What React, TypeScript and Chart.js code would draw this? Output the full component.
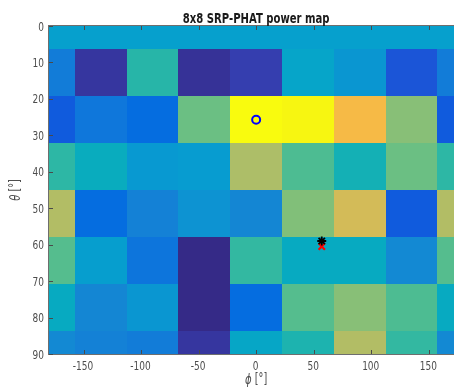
import React, { useEffect, useRef } from "react";
import { Chart, registerables } from "chart.js";
Chart.register(...registerables);

// phi centres (last column repeats the first, wrap-around)
const PHI = [-180, -135, -90, -45, 0, 45, 90, 135, 180];
// theta centres
const THETA = [0, 12.86, 25.71, 38.57, 51.43, 64.29, 77.14, 90];

// normalised SRP-PHAT power, one array per theta row
const ROW_T0 = [0.35, 0.35, 0.35, 0.35, 0.35, 0.35, 0.35, 0.35, 0.35];
const ROW_T13 = [0.22, 0.03, 0.48, 0.02, 0.05, 0.37, 0.31, 0.1, 0.22];
const ROW_T26 = [0.11, 0.2, 0.16, 0.58, 1.0, 0.99, 0.82, 0.62, 0.11];
const ROW_T39 = [0.49, 0.41, 0.32, 0.33, 0.68, 0.54, 0.44, 0.58, 0.49];
const ROW_T51 = [0.69, 0.16, 0.24, 0.3, 0.26, 0.61, 0.75, 0.11, 0.69];
const ROW_T64 = [0.55, 0.34, 0.19, 0.0, 0.5, 0.4, 0.4, 0.27, 0.55];
const ROW_T77 = [0.4, 0.26, 0.31, 0.0, 0.16, 0.55, 0.62, 0.54, 0.4];
const ROW_T90 = [0.27, 0.24, 0.22, 0.03, 0.38, 0.46, 0.69, 0.5, 0.27];
const POWER = [ROW_T0, ROW_T13, ROW_T26, ROW_T39, ROW_T51, ROW_T64, ROW_T77, ROW_T90];

const X_TICKS = [-150, -100, -50, 0, 50, 100, 150];
const Y_TICKS = [0, 10, 20, 30, 40, 50, 60, 70, 80, 90];

const EST_POINT = [{ x: 0, y: 25.7 }];
const STAR_POINT = [{ x: 57, y: 59 }];
const CROSS_POINT = [{ x: 57, y: 60.5 }];

const TITLE = "8x8 SRP-PHAT power map";
const X_LABEL = ["ϕ", " [°]"];
const Y_LABEL = ["θ", " [°]"];

const PARULA = [
  [0.2081, 0.1663, 0.5292], [0.2116, 0.1898, 0.5777], [0.2123, 0.2138, 0.627], [0.2081, 0.2386, 0.6771],
  [0.1959, 0.2645, 0.7279], [0.1707, 0.2919, 0.7792], [0.1253, 0.3242, 0.8303], [0.0591, 0.3598, 0.8683],
  [0.0117, 0.3875, 0.882], [0.006, 0.4086, 0.8828], [0.0165, 0.4266, 0.8786], [0.0329, 0.443, 0.872],
  [0.0498, 0.4586, 0.8641], [0.0629, 0.4737, 0.8554], [0.0723, 0.4887, 0.8467], [0.0779, 0.504, 0.8384],
  [0.0793, 0.52, 0.8312], [0.0749, 0.5375, 0.8263], [0.0641, 0.557, 0.824], [0.0488, 0.5772, 0.8228],
  [0.0343, 0.5966, 0.8199], [0.0265, 0.6137, 0.8135], [0.0239, 0.6287, 0.8038], [0.0231, 0.6418, 0.7913],
  [0.0228, 0.6535, 0.7768], [0.0267, 0.6642, 0.7607], [0.0384, 0.6743, 0.7436], [0.059, 0.6838, 0.7254],
  [0.0843, 0.6928, 0.7062], [0.1133, 0.7015, 0.6859], [0.1453, 0.7098, 0.6646], [0.1801, 0.7177, 0.6424],
  [0.2178, 0.725, 0.6193], [0.2586, 0.7317, 0.5954], [0.3022, 0.7376, 0.5712], [0.3482, 0.7424, 0.5473],
  [0.3953, 0.7459, 0.5244], [0.442, 0.7481, 0.5033], [0.4871, 0.7491, 0.484], [0.53, 0.7491, 0.4661],
  [0.5709, 0.7485, 0.4494], [0.6099, 0.7473, 0.4337], [0.6473, 0.7456, 0.4188], [0.6834, 0.7435, 0.4044],
  [0.7184, 0.7411, 0.3905], [0.7525, 0.7384, 0.3768], [0.7858, 0.7356, 0.3633], [0.8185, 0.7327, 0.3498],
  [0.8507, 0.7299, 0.336], [0.8824, 0.7274, 0.3217], [0.9139, 0.7258, 0.3063], [0.945, 0.7261, 0.2886],
  [0.9739, 0.7314, 0.2666], [0.9938, 0.7455, 0.2403], [0.999, 0.7653, 0.2164], [0.9955, 0.7861, 0.1967],
  [0.988, 0.8066, 0.1794], [0.9789, 0.8271, 0.1633], [0.9697, 0.8481, 0.1475], [0.9626, 0.8705, 0.1309],
  [0.9589, 0.8949, 0.1132], [0.9598, 0.9218, 0.0948], [0.9661, 0.9514, 0.0755], [0.9763, 0.9831, 0.0538],
];

function parula(v: number): string {
  const t = Math.max(0, Math.min(1, v)) * (PARULA.length - 1);
  const i = Math.floor(t);
  const j = Math.min(PARULA.length - 1, i + 1);
  const f = t - i;
  const c = PARULA[i].map((a, k) => Math.round(255 * (a + (PARULA[j][k] - a) * f)));
  return `rgb(${c[0]},${c[1]},${c[2]})`;
}

const FONT = "'DejaVu Sans Condensed', 'DejaVu Sans', sans-serif";
const SQUISH = 0.8;

// draw text horizontally compressed; align: "left" | "center" | "right"
function squishText(ctx: any, parts: { t: string; font: string; dy?: number }[], x: number, y: number, align: string) {
  let total = 0;
  const widths = parts.map((p) => {
    ctx.font = p.font;
    const w = ctx.measureText(p.t).width;
    total += w;
    return w;
  });
  ctx.save();
  ctx.translate(x, y);
  ctx.scale(SQUISH, 1);
  let start = align === "center" ? -total / 2 : align === "right" ? -total : 0;
  ctx.textAlign = "left";
  ctx.textBaseline = "alphabetic";
  parts.forEach((p, i) => {
    ctx.font = p.font;
    ctx.fillText(p.t, start, p.dy || 0);
    start += widths[i];
  });
  ctx.restore();
}

const heatmapPlugin = {
  id: "heatmap",
  beforeDatasetsDraw(chart: any) {
    const { ctx, chartArea, scales } = chart;
    const xs = scales.x;
    const ys = scales.y;
    const dPhi = PHI[1] - PHI[0];
    const dTh = THETA[1] - THETA[0];
    ctx.save();
    ctx.beginPath();
    ctx.rect(chartArea.left, chartArea.top, chartArea.right - chartArea.left, chartArea.bottom - chartArea.top);
    ctx.clip();
    POWER.forEach((row, i) => {
      row.forEach((v, j) => {
        const x0 = Math.round(xs.getPixelForValue(PHI[j] - dPhi / 2));
        const x1 = Math.round(xs.getPixelForValue(PHI[j] + dPhi / 2));
        const y0 = Math.round(ys.getPixelForValue(THETA[i] - dTh / 2));
        const y1 = Math.round(ys.getPixelForValue(THETA[i] + dTh / 2));
        ctx.fillStyle = parula(v);
        ctx.fillRect(Math.min(x0, x1), Math.min(y0, y1), Math.abs(x1 - x0), Math.abs(y1 - y0));
      });
    });
    ctx.restore();
  },
  afterDraw(chart: any) {
    const { ctx, chartArea, scales } = chart;
    const { left, right, top, bottom } = chartArea;
    ctx.save();
    ctx.strokeStyle = "#6e6e6e";
    ctx.lineWidth = 1;
    ctx.strokeRect(left - 0.5, top - 0.5, right - left + 1, bottom - top + 1);
    const tl = 4;
    ctx.beginPath();
    X_TICKS.forEach((t) => {
      const px = Math.round(scales.x.getPixelForValue(t)) + 0.5;
      ctx.moveTo(px, bottom);
      ctx.lineTo(px, bottom - tl);
      ctx.moveTo(px, top);
      ctx.lineTo(px, top + tl);
    });
    Y_TICKS.forEach((t) => {
      const py = Math.round(scales.y.getPixelForValue(t)) + 0.5;
      ctx.moveTo(left, py);
      ctx.lineTo(left + tl, py);
      ctx.moveTo(right, py);
      ctx.lineTo(right - tl, py);
    });
    ctx.strokeStyle = "#4a4a4a";
    ctx.stroke();

    // tick labels
    ctx.fillStyle = "#4d4d4d";
    const tickFont = `12.5px ${FONT}`;
    X_TICKS.forEach((t) => {
      const px = scales.x.getPixelForValue(t);
      squishText(ctx, [{ t: String(t), font: tickFont }], px - 0.5, bottom + 16, "center");
    });
    Y_TICKS.forEach((t) => {
      const py = scales.y.getPixelForValue(t);
      squishText(ctx, [{ t: String(t), font: tickFont }], left - 5, py + 4.5, "right");
    });

    // title
    ctx.fillStyle = "#1a1a1a";
    squishText(ctx, [{ t: TITLE, font: `bold 14px ${FONT}` }], (left + right) / 2, 23, "center");

    // axis titles
    ctx.fillStyle = "#4d4d4d";
    squishText(
      ctx,
      [
        { t: X_LABEL[0], font: `italic 14px ${FONT}`, dy: 0 },
        { t: X_LABEL[1], font: `13.5px ${FONT}`, dy: -1 },
      ],
      (left + right) / 2,
      384,
      "center"
    );
    ctx.save();
    ctx.translate(20, (top + bottom) / 2);
    ctx.rotate(-Math.PI / 2);
    squishText(
      ctx,
      [
        { t: Y_LABEL[0], font: `italic 14px ${FONT}`, dy: 0 },
        { t: Y_LABEL[1], font: `13.5px ${FONT}`, dy: -1 },
      ],
      0,
      0,
      "center"
    );
    ctx.restore();
    ctx.restore();
  },
};

export default function App() {
  const ref = useRef<HTMLCanvasElement | null>(null);
  useEffect(() => {
    if (!ref.current) return;
    const chart = new Chart(ref.current, {
      type: "scatter",
      data: {
        datasets: [
          {
            data: STAR_POINT,
            pointStyle: "star",
            radius: 4.5,
            borderWidth: 1.8,
            borderColor: "#000000",
            backgroundColor: "#000000",
          },
          {
            data: CROSS_POINT,
            pointStyle: "crossRot",
            radius: 4.5,
            borderWidth: 2.2,
            borderColor: "#ff0000",
            backgroundColor: "#ff0000",
          },
          {
            data: EST_POINT,
            pointStyle: "circle",
            radius: 4,
            borderWidth: 2,
            borderColor: "#0000ff",
            backgroundColor: "rgba(0,0,0,0)",
          },
        ],
      },
      options: {
        responsive: false,
        animation: false,
        events: [],
        layout: { padding: { top: 26, right: 6, left: 0, bottom: 0 } },
        plugins: { legend: { display: false }, tooltip: { enabled: false }, title: { display: false } },
        scales: {
          x: {
            type: "linear",
            min: -180,
            max: 180,
            grid: { display: false, drawTicks: false },
            border: { display: false },
            afterBuildTicks: (s: any) => {
              s.ticks = X_TICKS.map((v) => ({ value: v }));
            },
            afterFit: (s: any) => {
              s.height = 34;
            },
            ticks: { display: false },
          },
          y: {
            type: "linear",
            min: 0,
            max: 90,
            reverse: true,
            grid: { display: false, drawTicks: false },
            border: { display: false },
            afterBuildTicks: (s: any) => {
              s.ticks = Y_TICKS.map((v) => ({ value: v }));
            },
            afterFit: (s: any) => {
              s.width = 49;
            },
            ticks: { display: false },
          },
        },
      },
      plugins: [heatmapPlugin],
    });
    return () => chart.destroy();
  }, []);
  return (
    <div style={{ position: "absolute", left: 0, top: 0, width: 454, height: 388, overflow: "hidden", background: "#fff" }}>
      <canvas ref={ref} width={470} height={388} style={{ width: 470, height: 388, display: "block" }} />
    </div>
  );
}
